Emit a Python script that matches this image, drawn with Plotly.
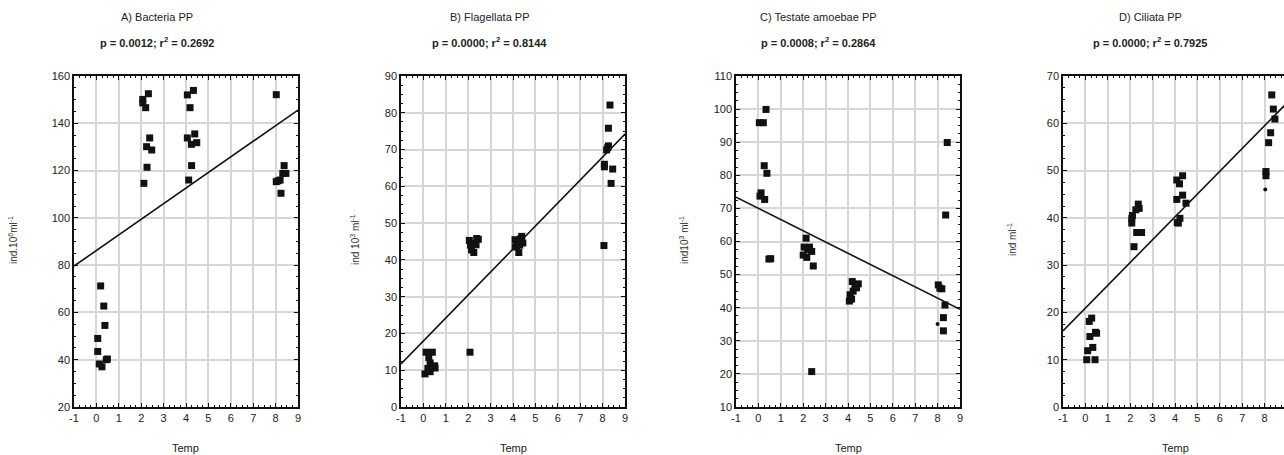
import plotly.graph_objects as go

W, H = 1284, 455

# ---------------- data ----------------
titles = ["A) Bacteria PP", "B) Flagellata PP", "C) Testate amoebae PP", "D) Ciliata PP"]
stats = ["p = 0.0012; r<sup>2</sup> = 0.2692", "p = 0.0000; r<sup>2</sup> = 0.8144",
         "p = 0.0008; r<sup>2</sup> = 0.2864", "p = 0.0000; r<sup>2</sup> = 0.7925"]
ylabels = ["ind.10<sup>6</sup>ml<sup>-1</sup>", "ind 10<sup>3</sup> ml<sup>-1</sup>",
           "ind10<sup>3</sup> ml<sup>-1</sup>", "ind ml<sup>-1</sup>"]
xlabel = "Temp"

a_x = [0.06, 0.06, 0.13, 0.25, 0.19, 0.33, 0.38, 0.44, 0.49,
       2.07, 2.07, 2.32, 2.20, 2.38, 2.24, 2.47, 2.26, 2.12,
       4.06, 4.33, 4.18, 4.06, 4.39, 4.24, 4.48, 4.25, 4.12,
       8.03, 8.03, 8.20, 8.38, 8.32, 8.46, 8.24, 8.12]
a_y = [49.0, 43.5, 38.2, 37.0, 71.2, 62.7, 54.5, 40.0, 40.3,
       150.1, 148.6, 152.5, 146.6, 133.8, 130.1, 128.7, 121.4, 114.6,
       152.0, 153.9, 146.6, 133.8, 135.5, 131.1, 131.8, 122.1, 116.0,
       152.1, 115.3, 116.0, 122.1, 118.8, 118.8, 110.4, 115.7]

b_x = [0.12, 0.40, 0.24, 0.30, 0.07, 0.30, 0.52, 0.50, 0.20,
       2.08, 2.05, 2.38, 2.45, 2.23, 2.10, 2.35, 2.25, 2.15,
       4.09, 4.39, 4.24, 4.16, 4.09, 4.26, 4.44, 4.35, 4.30,
       8.06, 8.33, 8.26, 8.26, 8.18, 8.08, 8.08, 8.45, 8.38, 8.23]
b_y = [14.9, 14.9, 13.4, 12.0, 9.0, 9.6, 10.6, 11.2, 10.5,
       14.9, 45.3, 45.8, 45.6, 44.5, 44.0, 44.1, 42.0, 42.7,
       45.5, 46.4, 45.3, 43.9, 43.5, 42.0, 44.6, 45.8, 44.0,
       43.9, 82.1, 75.8, 71.0, 69.9, 66.0, 65.3, 64.7, 60.8, 70.5]

c_x = [0.34, 0.04, 0.22, 0.26, 0.38, 0.12, 0.07, 0.28, 0.47, 0.55,
       2.13, 2.04, 2.28, 2.38, 2.00, 2.16, 2.45, 2.38, 2.20,
       4.19, 4.46, 4.31, 4.23, 4.09, 4.16, 4.06, 4.38,
       8.43, 8.36, 8.03, 8.19, 8.10, 8.33, 8.26, 8.26]
c_y = [99.9, 95.9, 95.9, 82.9, 80.6, 74.7, 73.7, 72.7, 54.7, 54.8,
       61.0, 58.3, 58.3, 57.0, 55.9, 55.2, 52.6, 20.7, 57.5,
       47.9, 47.2, 46.4, 45.0, 43.9, 42.6, 42.0, 46.0,
       89.9, 68.0, 46.9, 45.7, 45.9, 40.8, 37.0, 33.0]
c_small_x = [8.00]
c_small_y = [35.1]

d_x = [0.28, 0.17, 0.20, 0.50, 0.45, 0.10, 0.33, 0.06, 0.43,
       2.36, 2.40, 2.07, 2.10, 2.25, 2.07, 2.29, 2.51, 2.17,
       4.08, 4.34, 4.20, 4.08, 4.34, 4.49, 4.22, 4.10, 4.15,
       8.32, 8.39, 8.46, 8.27, 8.18, 8.06, 8.06]
d_y = [18.8, 18.1, 14.9, 15.6, 15.8, 11.9, 12.6, 10.0, 10.0,
       42.9, 42.0, 39.9, 40.5, 41.7, 38.9, 36.9, 36.9, 33.9,
       48.0, 48.9, 47.2, 43.9, 44.8, 43.1, 39.9, 39.0, 38.9,
       66.0, 63.0, 60.9, 58.0, 55.9, 49.8, 48.9]
d_small_x = [8.03]
d_small_y = [46.0]

fit_x = [-1, 9]
fit_a = [79.6, 145.6]
fit_b = [11.7, 74.2]
fit_c = [73.4, 39.5]
fit_d = [16.1, 64.3]

y_ranges = [[20, 160], [0, 90], [10, 110], [0, 70]]
y_dticks = [20, 10, 10, 10]
x_ticks = [-1, 0, 1, 2, 3, 4, 5, 6, 7, 8, 9]

# ---------------- layout geometry (pixels) ----------------
plot_left = [74, 401, 736, 1063]
plot_right = [298, 625, 960, 1284]
x_ends = [9, 9, 9, 8.866]
top_px, bot_px = 76, 407
title_cx = [157, 489, 818, 1150]
ylab_cx = [13, 355, 684, 1012]

pts = [(a_x, a_y), (b_x, b_y), (c_x, c_y), (d_x, d_y)]
small = [None, None, (c_small_x, c_small_y), (d_small_x, d_small_y)]
fits = [fit_a, fit_b, fit_c, fit_d]

fig = go.Figure()
FONT = "Liberation Sans, Arial, sans-serif"
annotations = []

for i in range(4):
    xa = "x" if i == 0 else f"x{i+1}"
    ya = "y" if i == 0 else f"y{i+1}"
    fig.add_trace(go.Scatter(x=fit_x, y=fits[i], mode="lines",
                             line=dict(color="#111111", width=1.6),
                             xaxis=xa, yaxis=ya, showlegend=False, hoverinfo="skip"))
    fig.add_trace(go.Scatter(x=pts[i][0], y=pts[i][1], mode="markers",
                             marker=dict(symbol="square", size=7, color="#111111"),
                             xaxis=xa, yaxis=ya, showlegend=False))
    if small[i] is not None:
        fig.add_trace(go.Scatter(x=small[i][0], y=small[i][1], mode="markers",
                                 marker=dict(symbol="circle", size=4, color="#111111"),
                                 xaxis=xa, yaxis=ya, showlegend=False))

    dom_x = [plot_left[i] / W, plot_right[i] / W]
    dom_y = [1 - bot_px / H, 1 - top_px / H]
    xkey = "xaxis" if i == 0 else f"xaxis{i+1}"
    ykey = "yaxis" if i == 0 else f"yaxis{i+1}"
    common = dict(showline=True, linecolor="#111111", linewidth=1.5,
                  showgrid=True, gridcolor="#d6d6d6", gridwidth=1.5,
                  zeroline=False, ticks="inside", ticklen=4, tickwidth=1,
                  tickcolor="#111111", automargin=False,
                  tickfont=dict(family=FONT, size=11, color="#222222"))
    fig.update_layout({
        xkey: dict(domain=dom_x, range=[-1, x_ends[i]], anchor=ya,
                   tickmode="array", tickvals=x_ticks, ticktext=[str(t) for t in x_ticks],
                   mirror="allticks",
                   minor=dict(ticks="inside", ticklen=2, dtick=0.25, tickcolor="#111111",
                              showgrid=False),
                   **common),
        ykey: dict(domain=dom_y, range=y_ranges[i], anchor=xa, dtick=y_dticks[i],
                   mirror=("allticks" if i < 3 else False),
                   minor=dict(ticks="inside", ticklen=2, dtick=y_dticks[i] / 4,
                              tickcolor="#111111", showgrid=False),
                   **common),
    })

    annotations.append(dict(x=title_cx[i] / W, y=1 - 17 / H, xref="paper", yref="paper",
                            text=titles[i], showarrow=False, xanchor="center", yanchor="middle",
                            font=dict(family=FONT, size=11, color="#222222")))
    annotations.append(dict(x=title_cx[i] / W, y=1 - 42 / H, xref="paper", yref="paper",
                            text="<b>" + stats[i] + "</b>", showarrow=False,
                            xanchor="center", yanchor="middle",
                            font=dict(family=FONT, size=11, color="#222222")))
    annotations.append(dict(x=ylab_cx[i] / W, y=1 - 240 / H, xref="paper", yref="paper",
                            text=ylabels[i], showarrow=False, textangle=-90,
                            xanchor="center", yanchor="middle",
                            font=dict(family=FONT, size=10, color="#333333")))
    xc = (plot_left[i] + plot_left[i] + 224) / 2
    annotations.append(dict(x=xc / W, y=1 - 448 / H, xref="paper", yref="paper",
                            text=xlabel, showarrow=False, xanchor="center", yanchor="middle",
                            font=dict(family=FONT, size=11, color="#222222")))

fig.update_layout(template="none", width=W, height=H, margin=dict(l=0, r=0, t=0, b=0),
                  paper_bgcolor="white", plot_bgcolor="white",
                  annotations=annotations, showlegend=False)

fig.write_html("out.html", config={"displayModeBar": False},
               post_script="document.body.style.margin='0';document.body.style.overflow='hidden';")
